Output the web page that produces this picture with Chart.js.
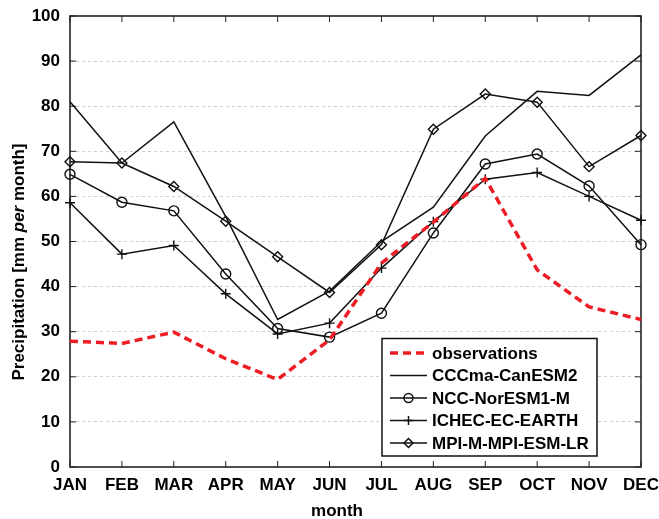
<!DOCTYPE html>
<html>
<head>
<meta charset="utf-8">
<script src="https://cdn.jsdelivr.net/npm/chart.js@4"></script>
<style>
  body { margin: 0; background: #fff; }
  #wrap { width: 659px; height: 519px; position: relative; }
</style>
</head>
<body>
<div id="wrap"><canvas id="precip"></canvas></div>
<script>
const months = ["JAN", "FEB", "MAR", "APR", "MAY", "JUN", "JUL", "AUG", "SEP", "OCT", "NOV", "DEC"];

// monthly precipitation, mm per month
const observations = [27.9, 27.4, 29.9, 24.0, 19.4, 28.2, 45.2, 54.3, 64.0, 43.7, 35.5, 32.7];
const canESM2 = [81.0, 67.4, 76.5, 55.5, 32.7, 39.0, 50.0, 57.6, 73.4, 83.3, 82.4, 91.4];
const norESM1 = [64.9, 58.7, 56.8, 42.8, 30.7, 28.8, 34.1, 51.9, 67.2, 69.4, 62.3, 49.3];
const ecEarth = [58.6, 47.2, 49.1, 38.4, 29.5, 31.9, 44.1, 54.4, 63.8, 65.3, 60.0, 54.7];
const mpiESM = [67.7, 67.4, 62.2, 54.5, 46.6, 38.7, 49.3, 74.9, 82.7, 80.9, 66.6, 73.5];

const yTicks = [0, 10, 20, 30, 40, 50, 60, 70, 80, 90, 100];

const FONT = "'Liberation Sans', Arial, Helvetica, sans-serif";
const RED = "#ee1c25";
const INK = "#111111";
const CLEAR = "rgba(0,0,0,0)";

const modelLine = (label, data, marker) => ({
  label: label,
  data: data,
  borderColor: INK,
  borderWidth: 1.5,
  pointStyle: marker,
  pointRadius: marker ? 5 : 0,
  pointBorderWidth: 1.4,
  pointBorderColor: INK,
  pointBackgroundColor: CLEAR,
  tension: 0,
  clip: false,
});

// box around the axes with inward ticks, axis titles and the legend
const framePlugin = {
  id: "frame",
  beforeDatasetsDraw(chart) {
    const { ctx, chartArea: a, scales } = chart;
    ctx.save();
    ctx.strokeStyle = "#222";
    ctx.lineWidth = 1.6;
    ctx.strokeRect(a.left, a.top, a.right - a.left, a.bottom - a.top);
    ctx.lineWidth = 1;
    ctx.beginPath();
    months.forEach((m, i) => {
      const x = scales.x.getPixelForValue(i);
      ctx.moveTo(x, a.bottom); ctx.lineTo(x, a.bottom - 6);
      ctx.moveTo(x, a.top); ctx.lineTo(x, a.top + 6);
    });
    yTicks.forEach((v) => {
      const y = scales.y.getPixelForValue(v);
      ctx.moveTo(a.left, y); ctx.lineTo(a.left + 6, y);
      ctx.moveTo(a.right, y); ctx.lineTo(a.right - 6, y);
    });
    ctx.stroke();
    ctx.restore();
  },
  afterDraw(chart) {
    const { ctx } = chart;
    ctx.save();
    ctx.fillStyle = "#000";

    // x title
    ctx.font = "bold 17px " + FONT;
    ctx.textAlign = "center";
    ctx.textBaseline = "middle";
    ctx.fillText("month", 337, 511);

    // y title, with italic "per"
    const parts = [
      ["Precipitation [mm ", "bold 17px " + FONT],
      ["per", "italic bold 17px " + FONT],
      [" month]", "bold 17px " + FONT],
    ];
    let total = 0;
    parts.forEach((p) => { ctx.font = p[1]; total += ctx.measureText(p[0]).width; });
    ctx.translate(19, 262);
    ctx.rotate(-Math.PI / 2);
    ctx.textAlign = "left";
    let x = -total / 2;
    parts.forEach((p) => {
      ctx.font = p[1];
      ctx.fillText(p[0], x, 0);
      x += ctx.measureText(p[0]).width;
    });
    ctx.restore();

    // legend
    const box = { left: 382, top: 338.5, right: 597, bottom: 456 };
    ctx.save();
    ctx.fillStyle = "#fff";
    ctx.fillRect(box.left, box.top, box.right - box.left, box.bottom - box.top);
    ctx.strokeStyle = "#111";
    ctx.lineWidth = 1.5;
    ctx.strokeRect(box.left, box.top, box.right - box.left, box.bottom - box.top);
    ctx.font = "bold 17px " + FONT;
    ctx.textAlign = "left";
    ctx.textBaseline = "middle";
    chart.data.datasets.forEach((ds, i) => {
      const y = 353 + i * 22.5;
      ctx.save();
      ctx.strokeStyle = ds.borderColor;
      ctx.lineWidth = ds.borderWidth;
      ctx.setLineDash(ds.borderDash || []);
      ctx.beginPath();
      ctx.moveTo(390, y);
      ctx.lineTo(427, y);
      ctx.stroke();
      if (ds.pointRadius > 0) {
        ctx.setLineDash([]);
        ctx.strokeStyle = INK;
        ctx.fillStyle = CLEAR;
        Chart.helpers.drawPoint(ctx, {
          pointStyle: ds.pointStyle,
          radius: 4.5,
          borderWidth: 1.3,
        }, 408.5, y);
      }
      ctx.restore();
      ctx.fillStyle = "#000";
      ctx.fillText(ds.label, 432, y + 1);
    });
    ctx.restore();
  },
};

new Chart(document.getElementById("precip"), {
  type: "line",
  data: {
    labels: months,
    datasets: [
      {
        label: "observations",
        data: observations,
        borderColor: RED,
        borderWidth: 3.5,
        borderDash: [8, 5],
        pointRadius: 0,
        tension: 0,
        clip: false,
      },
      modelLine("CCCma-CanESM2", canESM2, false),
      modelLine("NCC-NorESM1-M", norESM1, "circle"),
      modelLine("ICHEC-EC-EARTH", ecEarth, "cross"),
      modelLine("MPI-M-MPI-ESM-LR", mpiESM, "rectRot"),
    ],
  },
  options: {
    responsive: true,
    maintainAspectRatio: false,
    animation: false,
    layout: { padding: { top: 16, right: 18, bottom: 0, left: 0 } },
    plugins: {
      legend: { display: false },
      tooltip: { enabled: false },
    },
    scales: {
      x: {
        type: "category",
        offset: false,
        grid: { display: false, drawTicks: false },
        border: { display: false },
        ticks: {
          color: "#000",
          font: { family: FONT, size: 17, weight: "bold" },
          padding: 8,
          maxRotation: 0,
          autoSkip: false,
        },
        afterFit: (scale) => {
          scale.height = 52;
          scale.paddingLeft = 0;
          scale.paddingRight = 0;
        },
      },
      y: {
        min: 0,
        max: 100,
        grid: {
          drawTicks: false,
          lineWidth: 1,
          color: (c) => (c.tick && (c.tick.value === 0 || c.tick.value === 100) ? CLEAR : "#cfcfcf"),
        },
        border: { display: false, dash: [3, 3] },
        ticks: {
          stepSize: 10,
          color: "#000",
          font: { family: FONT, size: 17, weight: "bold" },
          padding: 10,
        },
        afterFit: (scale) => {
          scale.width = 70;
          scale.paddingTop = 0;
          scale.paddingBottom = 0;
        },
      },
    },
  },
  plugins: [framePlugin],
});
</script>
</body>
</html>
